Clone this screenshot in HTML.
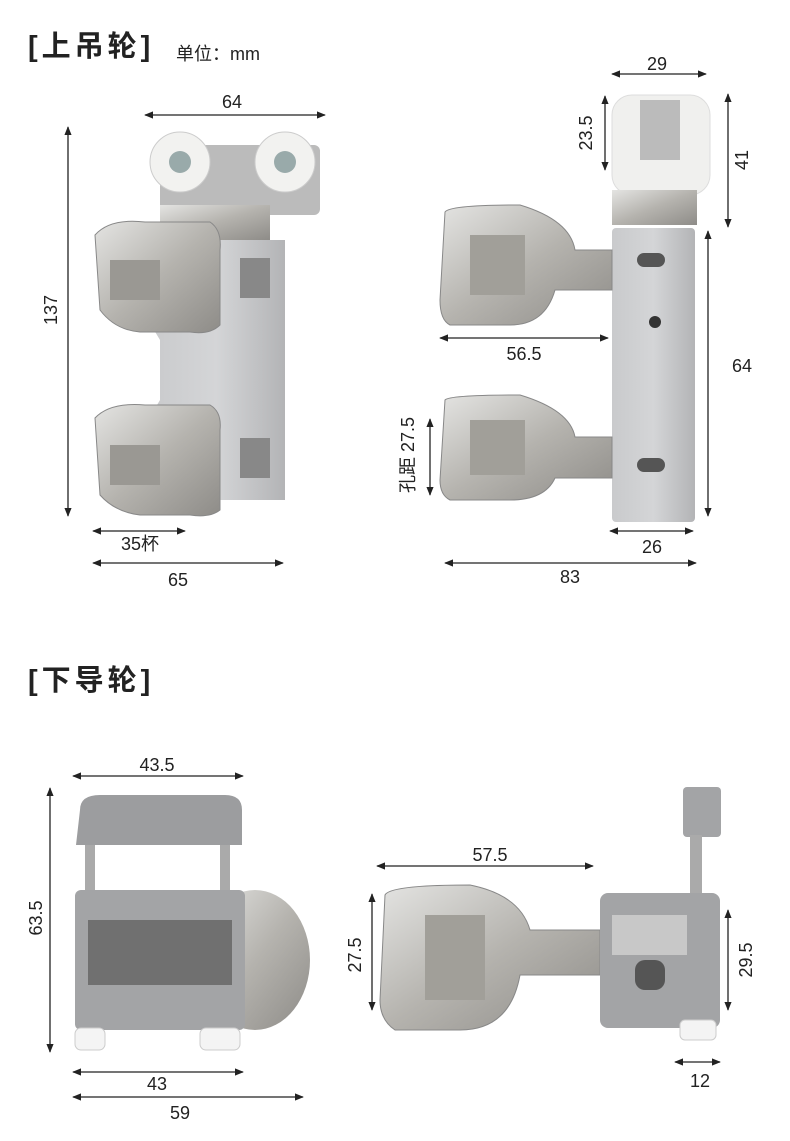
<!DOCTYPE html>
<html><head><meta charset="utf-8"><style>
html,body{margin:0;padding:0;background:#fff;}
svg{display:block;}
text{font-family:"Liberation Sans","Noto Sans CJK SC",sans-serif;fill:#222;}
</style></head><body>
<svg width="790" height="1141" viewBox="0 0 790 1141" xmlns="http://www.w3.org/2000/svg">
<defs>
<marker id="a" viewBox="0 0 10 10" refX="9" refY="5" markerWidth="7" markerHeight="7" orient="auto-start-reverse"><path d="M0,1 L10,5 L0,9 z" fill="#222"/></marker>
<linearGradient id="met" x1="0" y1="0" x2="1" y2="1"><stop offset="0" stop-color="#e4e4e2"/><stop offset=".5" stop-color="#b5b3ae"/><stop offset="1" stop-color="#8e8c88"/></linearGradient>
<linearGradient id="gry" x1="0" y1="0" x2="1" y2="0"><stop offset="0" stop-color="#c9cacc"/><stop offset=".5" stop-color="#d4d5d7"/><stop offset="1" stop-color="#b3b4b6"/></linearGradient>
</defs>
<g stroke="#222" stroke-width="1.3" marker-start="url(#a)" marker-end="url(#a)" fill="none">
<line x1="145" y1="115" x2="325" y2="115"/>
<line x1="68" y1="127" x2="68" y2="516"/>
<line x1="93" y1="531" x2="185" y2="531"/>
<line x1="93" y1="563" x2="283" y2="563"/>
<line x1="612" y1="74" x2="706" y2="74"/>
<line x1="605" y1="96" x2="605" y2="170"/>
<line x1="728" y1="94" x2="728" y2="227"/>
<line x1="708" y1="231" x2="708" y2="516"/>
<line x1="440" y1="338" x2="608" y2="338"/>
<line x1="430" y1="419" x2="430" y2="495"/>
<line x1="610" y1="531" x2="693" y2="531"/>
<line x1="445" y1="563" x2="696" y2="563"/>
<line x1="73" y1="776" x2="243" y2="776"/>
<line x1="50" y1="788" x2="50" y2="1052"/>
<line x1="73" y1="1072" x2="243" y2="1072"/>
<line x1="73" y1="1097" x2="303" y2="1097"/>
<line x1="377" y1="866" x2="593" y2="866"/>
<line x1="372" y1="894" x2="372" y2="1010"/>
<line x1="728" y1="910" x2="728" y2="1010"/>
<line x1="675" y1="1062" x2="720" y2="1062"/>
</g>
<text x="28" y="56" font-size="29" font-weight="bold" letter-spacing="4">[上吊轮]</text>
<text x="176" y="60" font-size="18">单位：mm</text>
<text x="28" y="690" font-size="29" font-weight="bold" letter-spacing="4">[下导轮]</text>
<g font-size="18" text-anchor="middle">
<text x="232" y="108">64</text>
<text x="140" y="550">35杯</text>
<text x="178" y="586">65</text>
<text x="657" y="70">29</text>
<text x="524" y="360">56.5</text>
<text x="652" y="553">26</text>
<text x="570" y="583">83</text>
<text x="742" y="372">64</text>
<text x="157" y="771">43.5</text>
<text x="157" y="1090">43</text>
<text x="180" y="1119">59</text>
<text x="490" y="861">57.5</text>
<text x="700" y="1087">12</text>
<text transform="translate(57,310) rotate(-90)">137</text>
<text transform="translate(592,133) rotate(-90)">23.5</text>
<text transform="translate(748,160) rotate(-90)">41</text>
<text transform="translate(414,455) rotate(-90)">孔距 27.5</text>
<text transform="translate(42,918) rotate(-90)">63.5</text>
<text transform="translate(361,955) rotate(-90)">27.5</text>
<text transform="translate(752,960) rotate(-90)">29.5</text>
</g>
<!-- top-left product -->
<rect x="160" y="145" width="160" height="70" rx="6" fill="#bbb"/>
<rect x="160" y="205" width="110" height="35" fill="url(#met)"/>
<path d="M148,240 H285 V500 H148 V420 L160,400 V340 L148,320 Z" fill="url(#gry)"/>
<circle cx="180" cy="162" r="30" fill="#f2f2f0" stroke="#ccc"/><circle cx="180" cy="162" r="11" fill="#9aa"/>
<circle cx="285" cy="162" r="30" fill="#f2f2f0" stroke="#ccc"/><circle cx="285" cy="162" r="11" fill="#9aa"/>
<path d="M95,235 Q110,218 145,222 H210 Q222,230 220,250 V325 Q210,335 190,332 H140 Q115,330 100,310 Z" fill="url(#met)" stroke="#888"/>
<path d="M95,418 Q110,402 145,405 H210 Q222,412 220,430 V510 Q210,518 190,515 H140 Q115,512 100,495 Z" fill="url(#met)" stroke="#888"/>
<rect x="110" y="260" width="50" height="40" fill="#9a9893"/><rect x="110" y="445" width="50" height="40" fill="#9a9893"/>
<path d="M240,258 h30 v40 h-30 z M240,438 h30 v40 h-30 z" fill="#888"/>
<!-- top-right product -->
<rect x="612" y="95" width="98" height="100" rx="20" fill="#f0f0ee" stroke="#ddd"/>
<rect x="640" y="100" width="40" height="60" fill="#bbb"/>
<rect x="612" y="190" width="85" height="35" fill="url(#met)"/>
<rect x="612" y="228" width="83" height="294" rx="4" fill="url(#gry)"/>
<rect x="637" y="253" width="28" height="14" rx="7" fill="#555"/><rect x="637" y="458" width="28" height="14" rx="7" fill="#555"/>
<circle cx="655" cy="322" r="6" fill="#333"/>
<path d="M445,212 Q450,205 520,205 Q570,220 575,250 H612 V290 H555 Q545,325 510,325 H450 Q440,320 440,300 Z" fill="url(#met)" stroke="#888"/>
<path d="M445,400 Q450,395 520,395 Q570,410 575,437 H612 V478 H555 Q545,500 510,500 H450 Q440,495 440,480 Z" fill="url(#met)" stroke="#888"/>
<rect x="470" y="235" width="55" height="60" fill="#a19f99"/><rect x="470" y="420" width="55" height="55" fill="#a19f99"/>
<!-- bottom-left product -->
<ellipse cx="255" cy="960" rx="55" ry="70" fill="url(#met)"/>
<rect x="85" y="840" width="10" height="60" fill="#aaa"/><rect x="220" y="840" width="10" height="60" fill="#aaa"/>
<path d="M80,810 Q80,795 100,795 H225 Q242,795 242,810 V845 H76 Z" fill="#9c9d9f"/>
<rect x="75" y="890" width="170" height="140" rx="6" fill="#a3a4a6"/>
<rect x="88" y="920" width="144" height="65" fill="#707070"/>
<rect x="75" y="1028" width="30" height="22" rx="6" fill="#f4f4f4" stroke="#ccc"/>
<rect x="200" y="1028" width="40" height="22" rx="6" fill="#f4f4f4" stroke="#ccc"/>
<!-- bottom-right product -->
<path d="M385,895 Q390,885 470,885 Q520,895 530,930 H600 V975 H520 Q510,1030 460,1030 H395 Q380,1020 380,1000 Z" fill="url(#met)" stroke="#888"/>
<rect x="425" y="915" width="60" height="85" fill="#a19f99"/>
<rect x="683" y="787" width="38" height="50" rx="4" fill="#a3a4a6"/>
<rect x="690" y="835" width="12" height="65" fill="#aaa"/>
<rect x="600" y="893" width="120" height="135" rx="8" fill="#a3a4a6"/>
<rect x="612" y="915" width="75" height="40" fill="#c8c8c8"/>
<rect x="635" y="960" width="30" height="30" rx="10" fill="#555"/>
<rect x="680" y="1020" width="36" height="20" rx="5" fill="#f4f4f4" stroke="#ccc"/>
</svg>
</body></html>
